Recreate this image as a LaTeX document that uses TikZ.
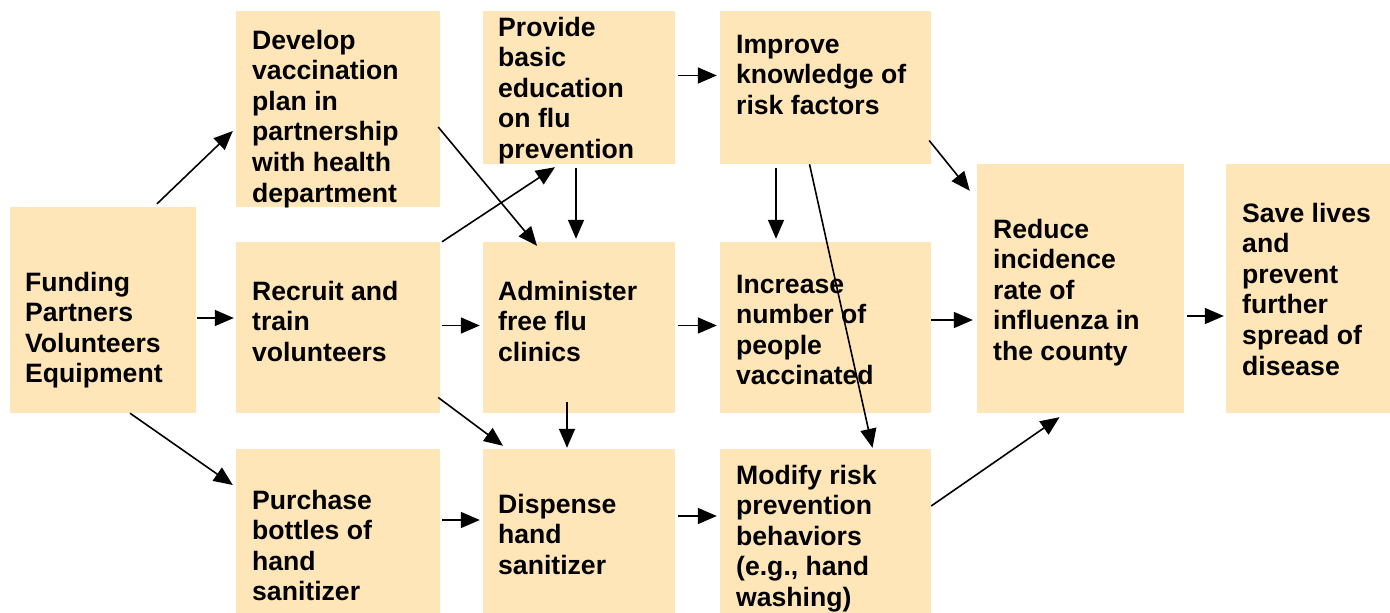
\documentclass[tikz,border=0pt]{standalone}
\usepackage{fontspec}
\setmainfont{Liberation Sans}
\usetikzlibrary{calc,arrows.meta}
\definecolor{boxfill}{RGB}{255,230,184}
\newcommand\boxtext[1]{\parbox[t]{240pt}{\raggedright #1}}
\begin{document}
\begin{tikzpicture}[x=1pt,y=-1pt,
  box/.style={fill=boxfill, draw=none, inner sep=0pt, minimum width=#1},
  txt/.style={anchor=base west, inner sep=0pt, font=\fontsize{26.6}{30.6}\selectfont\bfseries},
  arr/.style={line width=1.6pt, -{Triangle[length=19pt,width=16pt]}}]
\useasboundingbox (0,0) rectangle (1390,613);
% boxes
\node[box=186pt, minimum height=206pt] (funding) at (103,310) {};
\node[box=204pt, minimum height=196pt] (develop) at (338,109) {};
\node[box=204pt, minimum height=171pt] (recruit) at (338,327.5) {};
\node[box=204pt, minimum height=164pt] (purchase) at (338,531) {};
\node[box=192pt, minimum height=153pt] (provide) at (579,87.5) {};
\node[box=192pt, minimum height=171pt] (administer) at (579,327.5) {};
\node[box=192pt, minimum height=164pt] (dispense) at (579,531) {};
\node[box=211pt, minimum height=153pt] (improve) at (825.5,87.5) {};
\node[box=211pt, minimum height=171pt] (increase) at (825.5,327.5) {};
\node[box=211pt, minimum height=164pt] (modify) at (825.5,531) {};
\node[box=207pt, minimum height=249pt] (reduce) at (1080.5,288.5) {};
\node[box=164pt, minimum height=249pt] (save) at (1308,288.5) {};
% texts
\node[txt] (tfunding) at (25,291) {\boxtext{Funding\\Partners\\Volunteers\\Equipment}};
\node[txt] (tdevelop) at (252,49) {\boxtext{Develop\\vaccination\\plan in\\partnership\\with health\\department}};
\node[txt] (trecruit) at (252,300) {\boxtext{Recruit and\\train\\volunteers}};
\node[txt] (tpurchase) at (252,509) {\boxtext{Purchase\\bottles of\\hand\\sanitizer}};
\node[txt] (tprovide) at (498,36) {\boxtext{Provide\\basic\\education\\on flu\\prevention}};
\node[txt] (tadminister) at (498,300) {\boxtext{Administer\\free flu\\clinics}};
\node[txt] (tdispense) at (498,513) {\boxtext{Dispense\\hand\\sanitizer}};
\node[txt] (timprove) at (736,53) {\boxtext{Improve\\knowledge of\\risk factors}};
\node[txt] (tincrease) at (736,293) {\boxtext{Increase\\number of\\people\\vaccinated}};
\node[txt] (tmodify) at (736,484) {\boxtext{Modify risk\\prevention\\behaviors\\(e.g., hand\\washing)}};
\node[txt] (treduce) at (993,238) {\boxtext{Reduce\\incidence\\rate of\\influenza in\\the county}};
\node[txt] (tsave) at (1242,222) {\boxtext{Save lives\\and\\prevent\\further\\spread of\\disease}};
% arrows
\draw[arr] ($(funding.north)+(54,-3)$) -- ($(develop.west)+(-3,22)$);
\draw[arr] ($(funding.east)+(1,8)$) -- ($(recruit.west)+(-2,-9.5)$);
\draw[arr] ($(funding.south)+(27,0)$) -- ($(purchase.west)+(-3,-46)$);
\draw[arr] ($(develop.east)+(-2,18)$) -- ($(administer.north)+(-42,4)$);
\draw[arr] ($(recruit.north)+(104,0)$) -- ($(provide.south)+(-24,3)$);
\draw[arr] ($(recruit.east)+(2,-2)$) -- ($(administer.west)+(-3,-2)$);
\draw[arr] ($(recruit.east)+(-2,70)$) -- ($(dispense.north)+(-76,-3)$);
\draw[arr] ($(provide.east)+(3,-12)$) -- ($(improve.west)+(-3,-12)$);
\draw[arr] ($(provide.south)+(-3,4)$) -- ($(administer.north)+(-3,-3)$);
\draw[arr] ($(improve.south)+(-49.5,4)$) -- ($(increase.north)+(-49.5,-3)$);
\draw[arr] ($(improve.south)+(-16,0)$) -- ($(modify.north)+(47,-1)$);
\draw[arr] ($(improve.east)+(-2,53)$) -- ($(reduce.north west)+(-7,27)$);
\draw[arr] ($(administer.east)+(3,-2)$) -- ($(increase.west)+(-3,-2)$);
\draw[arr] ($(administer.south)+(-12,-11)$) -- ($(dispense.north)+(-12,-1)$);
\draw[arr] ($(purchase.east)+(2,-11)$) -- ($(dispense.west)+(-3,-11)$);
\draw[arr] ($(dispense.east)+(3,-15)$) -- ($(modify.west)+(-3,-15)$);
\draw[arr] ($(increase.east)+(0,-7.5)$) -- ($(reduce.west)+(-4,31.5)$);
\draw[arr] ($(modify.east)+(0,-25)$) -- ($(reduce.south)+(-21,4)$);
\draw[arr] ($(reduce.east)+(3,27.5)$) -- ($(save.west)+(-2,27.5)$);
\end{tikzpicture}
\end{document}
